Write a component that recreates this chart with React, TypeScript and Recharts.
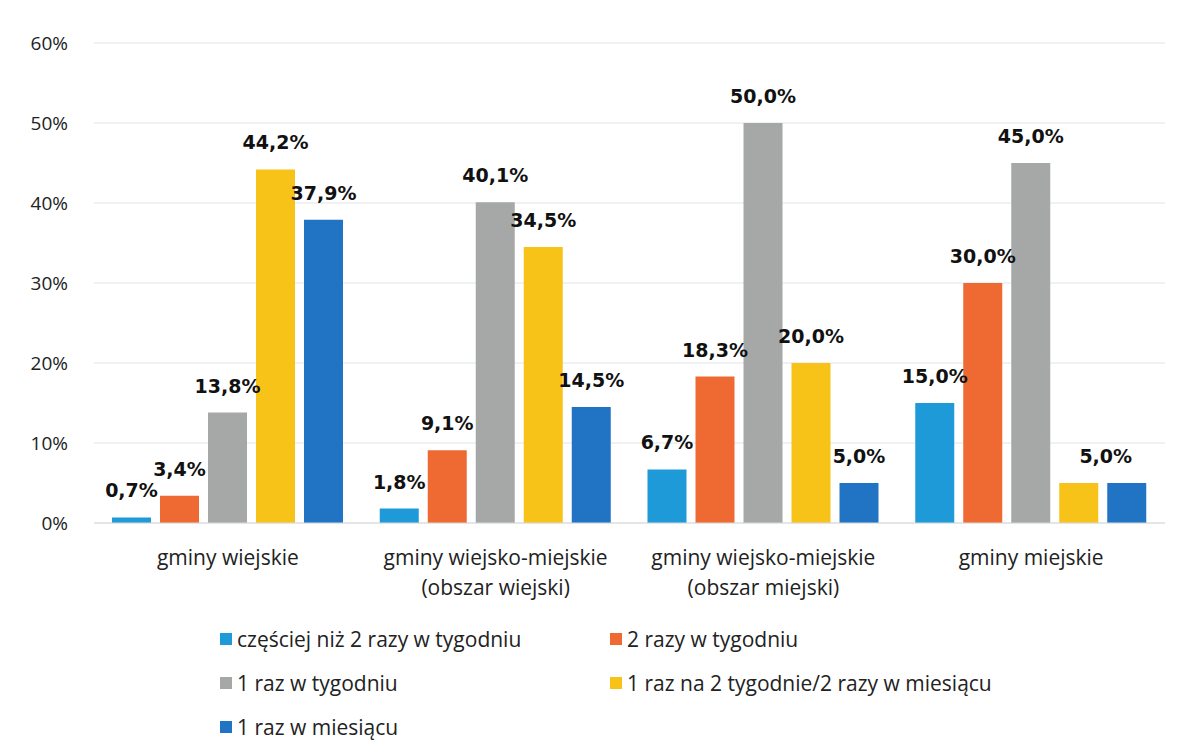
import React from "react";
import { BarChart, Bar, XAxis, YAxis, CartesianGrid, Legend, LabelList } from "recharts";

const categories = [
  "gminy wiejskie",
  "gminy wiejsko-miejskie\n(obszar wiejski)",
  "gminy wiejsko-miejskie\n(obszar miejski)",
  "gminy miejskie",
];

const czesciej = [0.7, 1.8, 6.7, 15.0];
const dwaRazy = [3.4, 9.1, 18.3, 30.0];
const razTydzien = [13.8, 40.1, 50.0, 45.0];
const dwaTygodnie = [44.2, 34.5, 20.0, 5.0];
const razMiesiac = [37.9, 14.5, 5.0, 5.0];

const yTicks = [0, 10, 20, 30, 40, 50, 60];

const series = [
  { key: "s1", name: "częściej niż 2 razy w tygodniu", color: "#1f9ad8", values: czesciej },
  { key: "s2", name: "2 razy w tygodniu", color: "#ef6a33", values: dwaRazy },
  { key: "s3", name: "1 raz w tygodniu", color: "#a6a8a8", values: razTydzien },
  { key: "s4", name: "1 raz na 2 tygodnie/2 razy w miesiącu", color: "#f8c318", values: dwaTygodnie },
  { key: "s5", name: "1 raz w miesiącu", color: "#2174c4", values: razMiesiac },
];

const data = categories.map((name, i) => {
  const row: Record<string, any> = { name };
  series.forEach((s) => (row[s.key] = s.values[i]));
  return row;
});

const font = "'Open Sans', sans-serif";

const fmt = (v: number) => v.toFixed(1).replace(".", ",") + "%";

// the last group shows one shared "5,0%" label between the two small bars
const makeLabel = (key: string) => (props: any) => {
  const { x, y, width, value, index } = props;
  if (key === "s4" && index === 3) return null;
  const dx = key === "s5" && index === 3 ? -21 : 0;
  return (
    <text
      x={Number(x) + Number(width) / 2 + dx}
      y={Number(y) - 20}
      textAnchor="middle"
      fontFamily="'DejaVu Sans', sans-serif"
      fontWeight="bold"
      fontSize={19}
      fill="#111"
    >
      {fmt(Number(value))}
    </text>
  );
};

const CategoryTick = (props: any) => {
  const { x, y, payload } = props;
  const lines = String(payload.value).split("\n");
  return (
    <g transform={`translate(${x},${y})`}>
      <text textAnchor="middle" fontFamily={font} fontSize={21} fill="#222">
        {lines.map((l, i) => (
          <tspan key={i} x={0} dy={i === 0 ? 34 : 30}>
            {l}
          </tspan>
        ))}
      </text>
    </g>
  );
};

const LegendBox = () => (
  <div
    style={{
      display: "grid",
      gridTemplateColumns: "390px 420px",
      fontFamily: font,
      fontSize: 21,
      color: "#222",
    }}
  >
    {series.map((s) => (
      <div key={s.key} style={{ display: "flex", alignItems: "center", height: 44 }}>
        <span style={{ width: 12, height: 12, background: s.color, marginRight: 5 }} />
        <span>{s.name}</span>
      </div>
    ))}
  </div>
);

const App: React.FC = () => {
  return (
    <div style={{ position: "absolute", left: 0, top: 0, background: "#fff" }}>
      <BarChart
        width={1189}
        height={751}
        data={data}
        margin={{ top: 43, right: 24, left: 0, bottom: 198 }}
        barSize={39}
        barGap={9}
      >
        <CartesianGrid vertical={false} stroke="#dfe4ea" />
        <XAxis
          dataKey="name"
          axisLine={{ stroke: "#d9d9d9" }}
          tickLine={false}
          tick={<CategoryTick />}
          interval={0}
        />
        <YAxis
          width={94}
          domain={[0, 60]}
          ticks={yTicks}
          tickFormatter={(v: number) => `${v}%`}
          axisLine={false}
          tickLine={false}
          tickSize={0}
          tickMargin={26}
          tick={{ fontFamily: font, fontSize: 19, fill: "#222" }}
        />
        <Legend
          layout="horizontal"
          verticalAlign="middle"
          align="center"
          content={<LegendBox />}
          wrapperStyle={{ top: 617, left: 220, width: 830 }}
        />
        {series.map((s) => (
          <Bar key={s.key} dataKey={s.key} name={s.name} fill={s.color} isAnimationActive={false}>
            <LabelList dataKey={s.key} content={makeLabel(s.key)} />
          </Bar>
        ))}
      </BarChart>
    </div>
  );
};

export default App;
